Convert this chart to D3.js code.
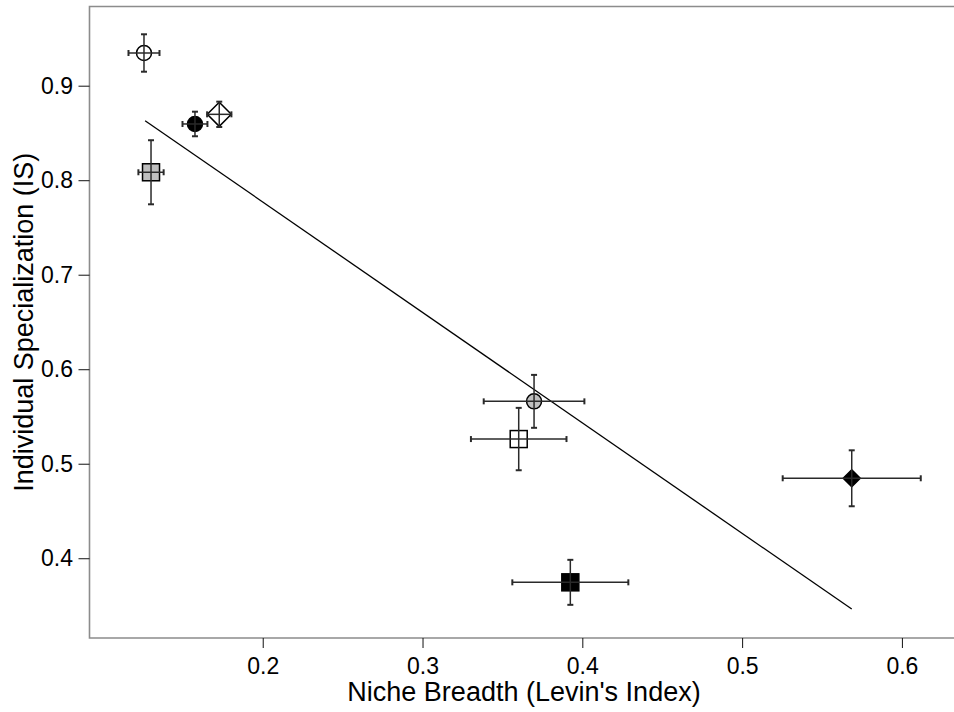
<!DOCTYPE html>
<html>
<head>
<meta charset="utf-8">
<script src="https://cdn.jsdelivr.net/npm/d3@7"></script>
<style>
  html, body { margin: 0; padding: 0; background: #fff; }
  svg { display: block; font-family: "Liberation Sans", Arial, sans-serif; }
</style>
</head>
<body>
<svg id="chart" width="954" height="712"></svg>
<script>
// Per-group means and error half-widths
const nicheBreadth   = [0.1257, 0.1576, 0.1728, 0.1301, 0.3698, 0.3602, 0.3925, 0.5686];
const nicheErr       = [0.0097, 0.0078, 0.0076, 0.0079, 0.0315, 0.0299, 0.0363, 0.0432];
const specialization = [0.9346, 0.8595, 0.8697, 0.8084, 0.5660, 0.5261, 0.3745, 0.4846];
const specErr        = [0.0198, 0.0130, 0.0134, 0.0339, 0.0280, 0.0330, 0.0238, 0.0296];
const markerShape    = ["circle", "circle", "diamond", "square", "circle", "square", "square", "diamond"];
const markerFill     = ["open", "black", "open", "grey", "grey", "open", "black", "black"];

// Fitted regression line (end points)
const fitX = [0.1264, 0.5686];
const fitY = [0.8630, 0.3462];

const xTicks = [0.2, 0.3, 0.4, 0.5, 0.6];
const yTicks = [0.4, 0.5, 0.6, 0.7, 0.8, 0.9];

const xDomain = [0.0916, 0.6326];
const yDomain = [0.3156, 0.9838];

const fillColor = { open: "none", black: "#000", grey: "#bfbfbf" };
// marker half-size by shape/fill
function halfSize(shape, fill) {
  if (shape === "diamond") return fill === "open" ? 12 : 8.5;
  if (shape === "circle") return 8;
  return 8.5;
}

const svg = d3.select("#chart");
const plotLeft = 89.5, plotRight = 954, plotTop = 6.5, plotBottom = 638;

const x = d3.scaleLinear().domain(xDomain).range([plotLeft, plotRight]);
const y = d3.scaleLinear().domain(yDomain).range([plotBottom, plotTop]);

// Frame (open on the right)
svg.append("path")
  .attr("d", `M${plotRight},${plotTop}H${plotLeft}V${plotBottom}H${plotRight}`)
  .attr("fill", "none")
  .attr("stroke", "#8c8c8c")
  .attr("stroke-width", 1.6);

// Axes
const xAxis = svg.append("g")
  .attr("transform", `translate(0,${plotBottom})`)
  .call(d3.axisBottom(x).tickValues(xTicks).tickSize(10).tickPadding(10).tickFormat(d3.format(".1f")));
const yAxis = svg.append("g")
  .attr("transform", `translate(${plotLeft},0)`)
  .call(d3.axisLeft(y).tickValues(yTicks).tickSize(11).tickPadding(5.5).tickFormat(d3.format(".1f")));

[xAxis, yAxis].forEach(g => {
  g.select(".domain").remove();
  g.selectAll(".tick line").attr("stroke", "#111").attr("stroke-width", 1);
  g.selectAll(".tick text")
    .attr("fill", "#000")
    .style("font-family", "'Liberation Sans', Arial, sans-serif")
    .style("font-size", "23px");
});

// Axis titles
svg.append("text")
  .attr("x", 524)
  .attr("y", 701)
  .attr("text-anchor", "middle")
  .style("font-size", "27px")
  .text("Niche Breadth (Levin's Index)");

svg.append("text")
  .attr("transform", `translate(33,${(plotTop + plotBottom) / 2}) rotate(-90)`)
  .attr("text-anchor", "middle")
  .style("font-size", "27px")
  .text("Individual Specialization (IS)");

// Regression line
svg.append("line")
  .attr("x1", x(fitX[0])).attr("y1", y(fitY[0]))
  .attr("x2", x(fitX[1])).attr("y2", y(fitY[1]))
  .attr("stroke", "#000")
  .attr("stroke-width", 1.3);

const pts = nicheBreadth.map((v, i) => ({
  nb: v, nbe: nicheErr[i], is: specialization[i], ise: specErr[i],
  shape: markerShape[i], fill: markerFill[i]
}));

// Markers
const mk = svg.append("g");
pts.forEach(d => {
  const cx = x(d.nb), cy = y(d.is), h = halfSize(d.shape, d.fill);
  let el;
  if (d.shape === "circle") {
    el = mk.append("circle").attr("cx", cx).attr("cy", cy).attr("r", h - 0.5);
  } else if (d.shape === "square") {
    el = mk.append("rect").attr("x", cx - h).attr("y", cy - h).attr("width", 2 * h).attr("height", 2 * h);
  } else {
    el = mk.append("path").attr("d", `M${cx},${cy - h}L${cx + h},${cy}L${cx},${cy + h}L${cx - h},${cy}Z`);
  }
  el.attr("fill", fillColor[d.fill]).attr("stroke", "#000").attr("stroke-width", 1.5);
});

// Error bars drawn over the markers
const eb = svg.append("g").attr("stroke", "#2a2a2a");
const cap = 3;
pts.forEach(d => {
  const cx = x(d.nb), cy = y(d.is);
  const x0 = x(d.nb - d.nbe), x1 = x(d.nb + d.nbe);
  const y0 = y(d.is - d.ise), y1 = y(d.is + d.ise);
  eb.append("line").attr("x1", x0).attr("x2", x1).attr("y1", cy).attr("y2", cy).attr("stroke-width", 1.5);
  eb.append("line").attr("x1", cx).attr("x2", cx).attr("y1", y0).attr("y2", y1).attr("stroke-width", 1.5);
  [x0, x1].forEach(xx => eb.append("line").attr("x1", xx).attr("x2", xx).attr("y1", cy - cap).attr("y2", cy + cap).attr("stroke-width", 2));
  [y0, y1].forEach(yy => eb.append("line").attr("x1", cx - cap).attr("x2", cx + cap).attr("y1", yy).attr("y2", yy).attr("stroke-width", 2));
});
</script>
</body>
</html>
